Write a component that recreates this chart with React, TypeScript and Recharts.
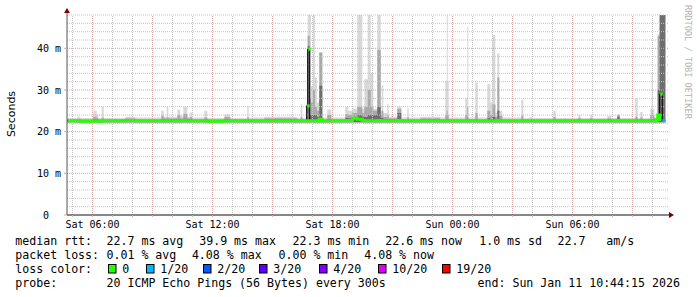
import React from 'react';
import { ComposedChart, Area, Line, XAxis, YAxis, ReferenceLine } from 'recharts';

// time in hours since Sat 00:00, values in ms
const times = [
  4.74, 5.24, 5.39, 6.04, 6.21, 6.29, 6.46, 6.56,
  7.64, 8.14, 9.44, 9.56, 9.71, 9.79, 10.24, 10.39,
  10.54, 10.74, 10.89, 10.99, 11.59, 11.74, 12.59, 12.89,
  13.74, 13.81, 14.59, 16.24, 16.41, 16.49, 16.71, 16.76,
  16.86, 16.92, 17.02, 17.12, 17.22, 17.34, 17.49, 17.74,
  17.94, 18.64, 18.79, 18.99, 19.24, 19.49, 19.59, 19.76,
  19.91, 20.04, 20.24, 20.41, 20.46, 20.54, 20.74, 20.81,
  21.24, 21.44, 21.74, 21.81, 22.39, 23.39, 23.64, 23.71,
  23.76, 23.81, 24.64, 24.74, 24.79, 25.14, 25.26, 25.74,
  25.89, 25.99, 26.14, 26.24, 26.34, 26.49, 27.44, 27.54,
  27.89, 27.99, 29.04, 29.16, 30.29, 30.41, 30.89, 31.01,
  31.74, 31.94, 32.24, 32.36, 33.14, 33.26, 33.39, 33.51,
  33.89, 33.96, 34.01, 34.09, 34.26, 34.36, 34.49, 34.64,
];

const medianRtt = [
  22.6, 22.6, 22.5, 22.6, 22.6, 22.5, 22.6, 22.6,
  22.7, 22.6, 22.6, 22.6, 22.7, 22.6, 22.6, 22.6,
  22.7, 22.6, 22.6, 22.6, 22.6, 22.5, 22.6, 22.6,
  22.6, 22.6, 22.6, 22.6, 22.6, 22.6, 26.2, 39.8,
  22.6, 22.6, 22.6, 22.6, 22.6, 23.0, 22.6, 22.6,
  22.6, 22.7, 22.7, 23.2, 23.0, 22.7, 22.6, 22.6,
  22.6, 22.6, 22.7, 22.6, 22.6, 22.6, 22.6, 22.6,
  22.7, 22.6, 22.6, 22.6, 22.6, 22.6, 22.6, 22.6,
  22.6, 22.6, 22.6, 22.7, 22.6, 22.6, 22.6, 22.6,
  22.6, 22.6, 22.6, 22.7, 22.6, 22.6, 22.6, 22.6,
  22.6, 22.6, 22.6, 22.6, 22.6, 22.6, 22.6, 22.6,
  22.6, 22.6, 22.7, 22.6, 22.6, 22.6, 22.6, 22.6,
  22.6, 22.6, 22.6, 22.6, 24.0, 29.0, 22.7, 22.7,
];

const maxPing = [
  23.3, 23.6, 23.3, 25.0, 24.2, 23.3, 26.0, 23.3,
  23.6, 23.4, 25.0, 23.6, 26.0, 23.6, 25.3, 23.8,
  26.0, 23.6, 24.6, 23.4, 25.0, 23.3, 24.2, 23.3,
  26.2, 23.4, 23.6, 23.3, 26.6, 23.3, 27.0, 48,
  48, 31, 48, 33, 27, 39, 23.4, 25.3,
  23.4, 25.9, 25.0, 25.5, 48, 25.5, 32.6, 48,
  34, 25.5, 48, 25, 31.2, 24.5, 26.6, 23.6,
  26, 23.4, 25.7, 23.4, 23.6, 23.4, 32.2, 48,
  32.2, 23.4, 28, 45.2, 23.4, 31.8, 23.4, 31.4,
  27, 43.2, 24.5, 38.8, 25, 23.4, 27.6, 23.3,
  23.5, 23.3, 25, 23.3, 24, 23.3, 24, 23.3,
  23.8, 23.3, 24.2, 23.3, 28, 23.3, 24.7, 23.3,
  25.5, 34.3, 25.5, 23.6, 43.4, 48, 48, 48,
];

const midPing = [
  23.0, 23.1, 23.0, 23.6, 23.3, 23.0, 23.4, 23.0,
  23.2, 23.0, 23.8, 23.2, 23.4, 23.2, 24.0, 23.2,
  24.3, 23.2, 23.5, 23.0, 23.4, 23.0, 23.5, 23.0,
  23.5, 23.0, 23.2, 23.0, 23.5, 23.0, 26.6, 43,
  28, 27, 30, 26, 25, 39, 23.0, 24.0,
  23.0, 24.2, 24.0, 24.5, 26, 24.5, 26, 30,
  26, 25, 39.6, 24, 25, 23.5, 24, 23.2,
  25.5, 23.0, 23.5, 23.0, 23.2, 23.0, 24, 25,
  24, 23.0, 24, 26, 23.0, 24.5, 23.0, 25,
  24, 26.5, 23.5, 33, 23.8, 23.0, 23.8, 23.0,
  23.1, 23.0, 23.5, 23.0, 23.3, 23.0, 23.3, 23.0,
  23.2, 23.0, 24.0, 23.0, 23.5, 23.0, 23.4, 23.0,
  24, 25, 24, 23.2, 43, 48, 48, 48,
];

const darkPing = [
  22.8, 22.8, 22.8, 23.0, 22.9, 22.8, 22.9, 22.8,
  22.9, 22.8, 23.0, 22.9, 22.9, 22.9, 23.0, 22.9,
  23.1, 22.9, 23.0, 22.8, 22.9, 22.8, 23.0, 22.8,
  22.9, 22.8, 22.9, 22.8, 22.9, 22.8, 26.3, 40.5,
  24, 24, 24, 24, 23.5, 31, 22.8, 23.0,
  22.8, 23.3, 23.2, 23.5, 24, 23.5, 23.5, 24,
  24, 24, 26, 23.3, 23.3, 23.0, 23.0, 22.9,
  24.5, 22.8, 22.9, 22.8, 22.9, 22.8, 23.0, 23.0,
  23.0, 22.8, 23.0, 23.2, 22.8, 23.0, 22.8, 23.2,
  23.0, 23.5, 23.0, 25, 23.0, 22.8, 22.9, 22.8,
  22.8, 22.8, 22.9, 22.8, 22.9, 22.8, 22.9, 22.8,
  22.9, 22.8, 23.6, 22.8, 22.9, 22.8, 22.9, 22.8,
  23.0, 23.0, 23.0, 22.9, 30, 48, 48, 48,
];

// index into lossLabels (0 = no loss, 1 = 1/20 ...)
const lossLevel = [
  0, 0, 0, 0, 0, 0, 0, 0, 0, 0, 0, 0, 0, 0, 0, 0,
  0, 0, 0, 0, 0, 0, 0, 0, 0, 0, 0, 0, 0, 0, 0, 0,
  0, 0, 0, 0, 0, 0, 0, 0, 0, 0, 0, 0, 0, 0, 0, 0,
  0, 0, 0, 0, 0, 0, 0, 0, 0, 0, 0, 0, 0, 0, 0, 0,
  0, 0, 0, 0, 0, 0, 0, 0, 0, 0, 0, 0, 0, 0, 0, 0,
  0, 0, 0, 0, 0, 0, 0, 0, 0, 0, 0, 0, 0, 0, 0, 0,
  0, 0, 0, 0, 0, 0, 1, 1,
];

const MEDIAN_BASE = 22.6;

const xTicks = [5, 6, 7, 8, 9, 10, 11, 12, 13, 14, 15, 16, 17, 18, 19, 20, 21, 22, 23, 24, 25, 26, 27, 28, 29, 30, 31, 32, 33, 34];
const xTickLabels: Record<number, string> = {
  6: 'Sat 06:00', 12: 'Sat 12:00', 18: 'Sat 18:00', 24: 'Sun 00:00', 30: 'Sun 06:00',
};
const yTicks = [0, 10, 20, 30, 40];
const yTickLabels = ['0\u00a0\u00a0', '10 m', '20 m', '30 m', '40 m'];

const lossLabels = ['0', '1/20', '2/20', '3/20', '4/20', '10/20', '19/20'];
const lossColors = ['#26ff00', '#00b8ff', '#0059ff', '#5e00ff', '#7e00ff', '#dd00ff', '#ff0000'];

const rttStats = ['22.7 ms avg', '39.9 ms max', '22.3 ms min', '22.6 ms now', '1.0 ms sd', '22.7\u00a0\u00a0\u00a0am/s'];
const lossStats = ['0.01 % avg', '4.08 % max', '0.00 % min', '4.08 % now'];
const probeText = '20 ICMP Echo Pings (56 Bytes) every 300s';
const endText = 'end: Sun Jan 11 10:44:15 2026';

// layout of the rrdtool style legend
const rttX = [106.5, 199.2, 292.5, 385.2, 479.2, 557.5];
const lossX = [106.5, 191.9, 278.5, 364.2];
const boxX = [108, 146, 203, 259, 319, 378, 442];
const MONO = '"DejaVu Sans Mono", monospace';

const majorY = [10, 20, 30, 40];
const minorY = [2, 4, 6, 8, 12, 14, 16, 18, 22, 24, 26, 28, 32, 34, 36, 38, 42, 44, 46, 48];
const majorX = [6, 9, 12, 15, 18, 21, 24, 27, 30, 33];
const minorX = [5, 7, 8, 10, 11, 13, 14, 16, 17, 19, 20, 22, 23, 25, 26, 28, 29, 31, 32, 34];

const rows = times.map((t, i) => ({
  t,
  median: medianRtt[i],
  max: maxPing[i],
  mid: midPing[i],
  dark: darkPing[i],
  green: lossLevel[i] === 0 ? (medianRtt[i] > 25 ? MEDIAN_BASE : medianRtt[i]) : null,
  lossy: lossLevel[i] > 0 ? medianRtt[i] : null,
}));

const SpikeDot = (props: any) => {
  const { cx, cy, payload, index } = props;
  if (cx == null || cy == null || payload.median < 25) return <g key={`sd${index}`} />;
  return <rect key={`sd${index}`} x={cx + 0.5} y={cy - 1.5} width={2.5} height={3} fill={lossColors[0]} />;
};

export default function App() {
  return (
    <div style={{ position: 'absolute', left: 0, top: 0, width: 697, height: 297, background: '#fff' }}>
      <ComposedChart width={697} height={297} data={rows} margin={{ top: 15, right: 28, bottom: 62, left: 7 }}>
        {minorY.map((v) => (
          <ReferenceLine key={`my${v}`} y={v} stroke="#c6c6c6" strokeDasharray="1 1" />
        ))}
        {minorX.map((v) => (
          <ReferenceLine key={`mx${v}`} x={v} stroke="#c6c6c6" strokeDasharray="1 1" />
        ))}
        {majorY.map((v) => (
          <ReferenceLine key={`My${v}`} y={v} stroke="#d9a4a4" strokeDasharray="1 1" />
        ))}
        {majorX.map((v) => (
          <ReferenceLine key={`Mx${v}`} x={v} stroke="#d9a4a4" strokeDasharray="1 1" />
        ))}
        <XAxis
          dataKey="t"
          type="number"
          domain={[4.725, 34.825]}
          allowDataOverflow
          ticks={xTicks}
          interval={0}
          tickFormatter={(v: number) => xTickLabels[v] || ''}
          tick={{ fontFamily: MONO, fontSize: 10, fill: '#000' }}
          tickSize={2}
          tickMargin={4}
          height={20}
          axisLine={{ stroke: '#111' }}
          tickLine={{ stroke: '#bbb' }}
        />
        <YAxis
          type="number"
          domain={[0, 48]}
          allowDataOverflow
          ticks={yTicks}
          interval={0}
          width={60}
          tickFormatter={(v: number) => yTickLabels[yTicks.indexOf(v)]}
          tick={{ fontFamily: MONO, fontSize: 10, fill: '#000' }}
          tickSize={3}
          tickMargin={3}
          axisLine={{ stroke: '#555' }}
          tickLine={{ stroke: '#d9a4a4' }}
        />
        <Area dataKey="max" type="stepAfter" baseValue={22.05} fill="#d8d8d8" fillOpacity={1} stroke="none" isAnimationActive={false} />
        <Area dataKey="mid" type="stepAfter" baseValue={22.25} fill="#a9a9a9" fillOpacity={1} stroke="none" isAnimationActive={false} />
        <Area dataKey="dark" type="stepAfter" baseValue={22.25} fill="#6e6e6e" fillOpacity={1} stroke="none" isAnimationActive={false} />
        <Line dataKey="median" type="stepAfter" stroke="#000" strokeWidth={1} dot={SpikeDot} activeDot={false} isAnimationActive={false} />
        <Line dataKey="green" type="stepAfter" stroke={lossColors[0]} strokeWidth={3} dot={false} activeDot={false} isAnimationActive={false} />
        <Line dataKey="lossy" type="stepAfter" stroke={lossColors[1]} strokeWidth={3} dot={false} activeDot={false} isAnimationActive={false} />
      </ComposedChart>

      <svg width={697} height={297} style={{ position: 'absolute', left: 0, top: 0, pointerEvents: 'none' }}>
        <line x1={67} y1={9} x2={67} y2={15} stroke="#555" />
        <polygon points="64,13 70,13 67,8" fill="#7f0000" />
        <line x1={669} y1={215} x2={671} y2={215} stroke="#111" />
        <polygon points="669,212 669,218 674,215" fill="#7f0000" />
        <text x={685} y={5} transform="rotate(90 685 5)" fontFamily={MONO} fontSize={8.6} fill="#b4b4b4">
          RRDTOOL / TOBI OETIKER
        </text>
        <text x={15} y={114} transform="rotate(-90 15 114)" textAnchor="middle" fontFamily='"DejaVu Sans", sans-serif' fontSize={11} fill="#000">
          Seconds
        </text>
        <g fontFamily={MONO} fontSize={11.6} fill="#000">
          <text x={15.3} y={245}>median rtt:</text>
          {rttStats.map((s, i) => (
            <text key={`r${i}`} x={rttX[i]} y={245}>{s}</text>
          ))}
          <text x={15.3} y={259}>packet loss:</text>
          {lossStats.map((s, i) => (
            <text key={`l${i}`} x={lossX[i]} y={259}>{s}</text>
          ))}
          <text x={15.3} y={273}>loss color:</text>
          {lossLabels.map((s, i) => (
            <g key={`c${i}`}>
              <rect x={boxX[i] + 0.5} y={264.5} width={7.5} height={8.5} fill={lossColors[i]} stroke="#000" />
              <text x={boxX[i] + 14.3} y={273}>{s}</text>
            </g>
          ))}
          <text x={15.3} y={287}>probe:</text>
          <text x={106.5} y={287}>{probeText}</text>
          <text x={477.5} y={287}>{endText}</text>
        </g>
      </svg>
    </div>
  );
}
